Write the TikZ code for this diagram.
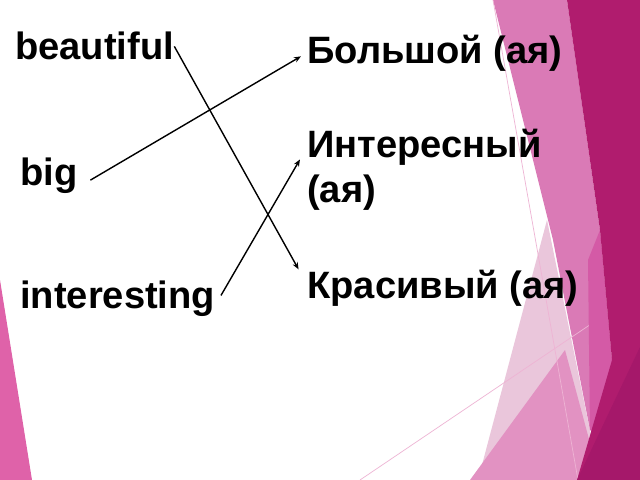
\documentclass[tikz,border=0pt]{standalone}
\usepackage{fontspec}
\setmainfont{Liberation Sans}
\usetikzlibrary{arrows.meta}
\definecolor{facetdark}{HTML}{B01C6E}
\definecolor{facetdeep}{HTML}{A5186A}
\definecolor{facetband}{HTML}{DA7AB6}
\definecolor{facetstrip}{HTML}{D45AA6}
\definecolor{facetlight}{HTML}{EAC6DB}
\definecolor{facetmid}{HTML}{E292C2}
\definecolor{facetleft}{HTML}{DF62A9}
\definecolor{facetline}{HTML}{EEB4D4}
\tikzstyle{word}=[inner sep=0, anchor=base west, align=left, font=\bfseries\fontsize{27.1}{32}\selectfont]
\tikzstyle{link}=[draw, line width=1pt, -{Stealth[length=5pt, width=4pt]}]
\tikzstyle{facet line}=[draw=facetline, line width=0.5pt]

\begin{document}
\begin{tikzpicture}[x=0.025cm, y=-0.025cm]
          \useasboundingbox (0, 0) rectangle (640, 480);
          \fill[white] (0, 0) rectangle (640, 480);

          \fill[facetleft] (0, 280) -- (32, 480) -- (0, 480) -- cycle;
          \fill[facetlight] (547, 220) -- (478, 480) -- (600, 480) -- cycle;
          \fill[facetmid] (470, 480) -- (565, 350) -- (600, 480) -- cycle;
          \fill[facetband] (493, 0) -- (567, 0) -- (600, 230) -- (612, 360)
            -- (590, 430) -- (553, 240) -- cycle;
          \draw[facet line] (493, 0) -- (578, 480);
          \draw[facet line] (360, 480) -- (640, 291);
          \fill[facetstrip] (588, 260) -- (600, 230) -- (612, 360)
            -- (604, 440) -- (590, 430) -- cycle;
          \fill[facetdark] (567, 0) -- (640, 0) -- (640, 480) -- (577, 480)
            -- (612, 360) -- (600, 230) -- cycle;
          \fill[facetdeep] (640, 347) -- (640, 480) -- (577, 480) -- cycle;

          \node[word] (beautiful) at (15, 60) {beautiful};
          \node[word] (big) at (20, 185) {big};
          \node[word] (interesting) at (20, 308) {interesting};
          \node[word] (bolshoj) at (307, 63) {Большой (ая)};
          \node[word] (interesnyj) at (307, 202) {Интересный\\(ая)};
          \node[word] (krasivyj) at (307, 298) {Красивый (ая)};

          \draw[link] (beautiful.east) -- ([xshift=-6pt]krasivyj.north west);
          \draw[link, shorten >=5pt] ([xshift=9pt, yshift=-3.5pt]big.east)
            -- (bolshoj.west);
          \draw[link] ([xshift=4pt, yshift=2pt]interesting.east)
            -- ([xshift=-5pt, yshift=7pt]interesnyj.west);
        \end{tikzpicture}
\end{document}
